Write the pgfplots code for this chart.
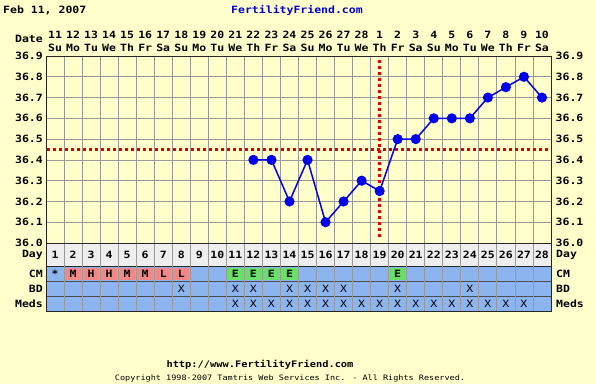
\documentclass[border=0pt]{standalone}
\usepackage{fontspec}
\setmainfont{DejaVu Sans Mono}[FakeStretch=1.15]
\usepackage{pgfplots}
\pgfplotsset{compat=1.18}
\definecolor{bg}{HTML}{FFFFCC}
\definecolor{ffblue}{HTML}{0000CC}
\definecolor{rowblue}{HTML}{8CB4EE}
\definecolor{daygray}{HTML}{EEEEEE}
\definecolor{cmred}{HTML}{F08888}
\definecolor{cmgreen}{HTML}{66E066}
\definecolor{gridgray}{HTML}{999999}
\definecolor{linblue}{HTML}{0000EE}
\definecolor{ovred}{HTML}{DD0000}
\newcommand\fs[1]{\fontsize{#1}{#1}\selectfont}
\begin{document}
\begin{tikzpicture}[x=1pt,y=1pt]
\fill[bg] (0,0) rectangle (596,-384);
\node[anchor=west,font=\bfseries\fs{10},inner sep=0] at (3,-10) {Feb 11, 2007};
\node[font=\bfseries\fs{10},text=ffblue,inner sep=0] at (297,-10) {FertilityFriend.com};
\node[anchor=east,font=\bfseries\fs{10},inner sep=0] at (43,-39) {Date};

% main temperature axis
\begin{axis}[at={(46pt,-243pt)}, anchor=south west, scale only axis,
  width=505pt, height=187pt,
  xmin=0.5, xmax=28.5, ymin=36.0, ymax=36.9,
  xtick={1,...,28},
  xticklabels={{11\\Su},{12\\Mo},{13\\Tu},{14\\We},{15\\Th},{16\\Fr},{17\\Sa},{18\\Su},{19\\Mo},{20\\Tu},{21\\We},{22\\Th},{23\\Fr},{24\\Sa},{25\\Su},{26\\Mo},{27\\Tu},{28\\We},{1\\Th},{2\\Fr},{3\\Sa},{4\\Su},{5\\Mo},{6\\Tu},{7\\We},{8\\Th},{9\\Fr},{10\\Sa}},
  xticklabel pos=upper,
  xticklabel style={align=center, font=\bfseries\fontsize{10}{13}\selectfont, inner sep=4pt},
  minor xtick={1.5,2.5,...,27.5}, xminorgrids,
  ytick={36.0,36.1,36.2,36.3,36.4,36.5,36.6,36.7,36.8,36.9}, ymajorgrids,
  major tick length=0, minor tick length=0,
  major grid style={gridgray, line width=0.8pt},
  minor grid style={gridgray, line width=0.8pt},
  axis line style={black!85, line width=0.8pt},
  yticklabel style={font=\bfseries\fs{10}, inner sep=3pt, /pgf/number format/.cd, fixed, fixed zerofill, precision=1, assume math mode=true},
  axis background/.style={fill=bg},
]
\addplot[ovred, line width=3pt, dash pattern=on 3pt off 3pt] coordinates {(0.55,36.45) (28.45,36.45)};
\addplot[ovred, line width=3pt, dash pattern=on 3pt off 3pt] coordinates {(19,36.88) (19,36.02)};
\addplot[linblue, line width=1.5pt, mark=*, mark size=4.3pt, mark options={fill=linblue, draw=linblue}] coordinates {
(12,36.4) (13,36.4) (14,36.2) (15,36.4) (16,36.1) (17,36.2) (18,36.3) (19,36.25) (20,36.5) (21,36.5) (22,36.6) (23,36.6) (24,36.6) (25,36.7) (26,36.75) (27,36.8) (28,36.7)};
\end{axis}

% right tick labels
\begin{axis}[at={(46pt,-243pt)}, anchor=south west, scale only axis,
  width=505pt, height=187pt,
  xmin=0.5, xmax=28.5, ymin=36.0, ymax=36.9,
  hide x axis, axis line style={draw=none},
  ytick={36.0,36.1,36.2,36.3,36.4,36.5,36.6,36.7,36.8,36.9},
  yticklabel pos=right, major tick length=0,
  yticklabel style={font=\bfseries\fs{10}, inner sep=4.5pt, /pgf/number format/.cd, fixed, fixed zerofill, precision=1, assume math mode=true},
]
\addplot[draw=none] coordinates {(1,36.5)};
\end{axis}

% table axis
\begin{axis}[at={(46pt,-311pt)}, anchor=south west, scale only axis,
  width=505pt, height=68pt,
  xmin=0.5, xmax=28.5, ymin=-68, ymax=0,
  xtick={1.5,2.5,...,27.5}, xticklabels={}, xmajorgrids,
  ytick=\empty,
  major tick length=0,
  major grid style={gridgray, line width=0.8pt},
  axis line style={black!85, line width=0.8pt},
  axis on top,
]
\fill[daygray] (axis cs:0.5,0) rectangle (axis cs:28.5,-23);
\fill[rowblue] (axis cs:0.5,-23) rectangle (axis cs:28.5,-68);
\pgfplotsinvokeforeach{1,...,28}{\node[font=\bfseries\fs{10}] at (axis cs:#1,-11.5) {#1};}
\node[font=\bfseries\fs{10}] at (axis cs:1,-31) {*};
\newcommand\cmcell[3]{\node[fill=#3, minimum width=16pt, minimum height=12pt, inner sep=0, font=\bfseries\fs{10}] at (axis cs:#1,-30.5) {#2};}
\cmcell{2}{M}{cmred}\cmcell{3}{H}{cmred}\cmcell{4}{H}{cmred}\cmcell{5}{M}{cmred}\cmcell{6}{M}{cmred}\cmcell{7}{L}{cmred}\cmcell{8}{L}{cmred}
\cmcell{11}{E}{cmgreen}\cmcell{12}{E}{cmgreen}\cmcell{13}{E}{cmgreen}\cmcell{14}{E}{cmgreen}\cmcell{20}{E}{cmgreen}
\pgfplotsinvokeforeach{8,11,12,14,15,16,17,20,24}{\node[font=\fs{10}] at (axis cs:#1,-45.5) {X};}
\pgfplotsinvokeforeach{11,...,27}{\node[font=\fs{10}] at (axis cs:#1,-60.5) {X};}
\draw[black!85, line width=0.8pt] (axis cs:0.5,-23) -- (axis cs:28.5,-23);
\draw[black!70, line width=0.8pt] (axis cs:0.5,-38) -- (axis cs:28.5,-38);
\draw[black!70, line width=0.8pt] (axis cs:0.5,-53) -- (axis cs:28.5,-53);
\end{axis}

% row labels
\foreach \lab/\yy in {Day/-255, CM/-274, BD/-289, Meds/-304}{
  \node[anchor=east,font=\bfseries\fs{10},inner sep=0] at (43,\yy) {\lab};
  \node[anchor=west,font=\bfseries\fs{10},inner sep=0] at (556,\yy) {\lab};
}

\node[font=\bfseries\fs{9},inner sep=0] at (260,-365) {http://www.FertilityFriend.com};
\node[font=\fs{7.4},inner sep=0] at (290,-378) {Copyright 1998-2007 Tamtris Web Services Inc. - All Rights Reserved.};
\end{tikzpicture}
\end{document}
